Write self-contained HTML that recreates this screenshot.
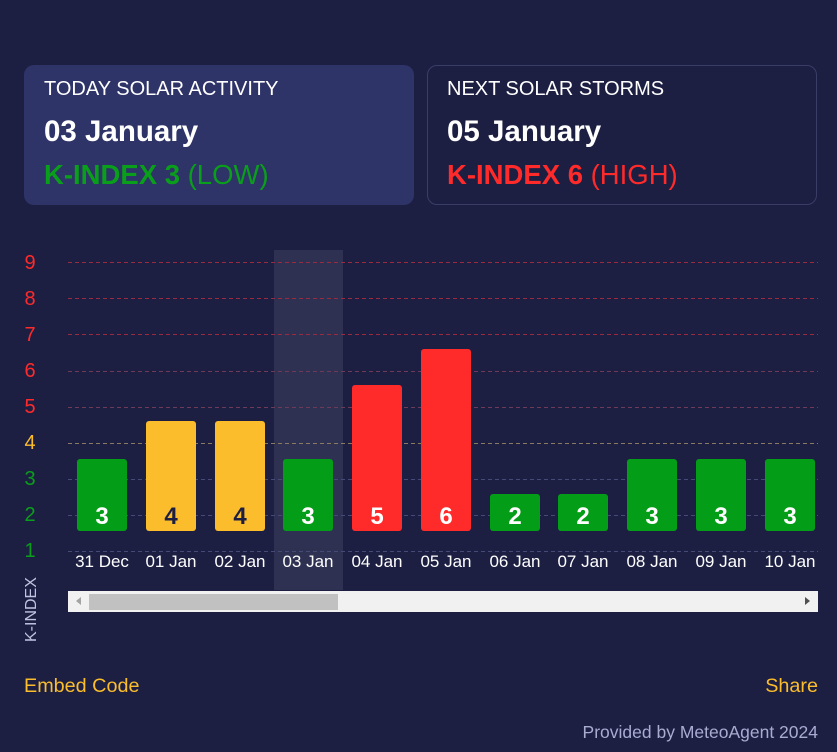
<!DOCTYPE html>
<html><head><style>
body{margin:0;width:837px;height:752px;background:#1c1f42;font-family:"Liberation Sans",sans-serif;position:relative;overflow:hidden;color:#fff}
.card{position:absolute;top:65px;width:390px;height:140px;border-radius:10px;box-sizing:border-box}
.t{position:absolute;left:20px;top:13px;font-size:20px}
.d{position:absolute;left:20px;top:50px;font-size:29.5px;font-weight:bold}
.k{position:absolute;left:20px;top:94px;font-size:27.5px}
.a{position:absolute;font-size:19.8px}
</style></head><body>
<div class="card" style="left:24px;background:#2e3368">
<div class="t">TODAY SOLAR ACTIVITY</div><div class="d">03 January</div>
<div class="k" style="color:#0a9f1a"><b>K-INDEX 3</b> (LOW)</div></div>
<div class="card" style="left:427px;border:1px solid #3a3e66">
<div class="t" style="left:19px;top:12px">NEXT SOLAR STORMS</div><div class="d" style="left:19px;top:49px">05 January</div>
<div class="k" style="color:#ff2a2a;left:19px;top:93px"><b>K-INDEX 6</b> (HIGH)</div></div>
<svg width="837" height="752" style="position:absolute;left:0;top:0" font-family="Liberation Sans, sans-serif">
<rect x="274" y="250" width="69" height="340" fill="#2e3152"/>
<g stroke-dasharray="4,3" stroke-width="1">
<line x1="68" x2="818" y1="262.5" y2="262.5" stroke="#9a2a40"/>
<line x1="68" x2="818" y1="298.5" y2="298.5" stroke="#9a2a40"/>
<line x1="68" x2="818" y1="334.5" y2="334.5" stroke="#9a2a40"/>
<line x1="68" x2="818" y1="371.5" y2="371.5" stroke="#6e3a58"/>
<line x1="68" x2="818" y1="407.5" y2="407.5" stroke="#6e3a58"/>
<line x1="68" x2="818" y1="443.5" y2="443.5" stroke="#8a7a60"/>
<line x1="68" x2="818" y1="479.5" y2="479.5" stroke="#454a78"/>
<line x1="68" x2="818" y1="515.5" y2="515.5" stroke="#454a78"/>
<line x1="68" x2="818" y1="551.5" y2="551.5" stroke="#454a78"/>
</g>
<g font-size="20" text-anchor="middle">
<text x="30" y="269" fill="#ff2a2a">9</text><text x="30" y="305" fill="#ff2a2a">8</text>
<text x="30" y="341" fill="#ff2a2a">7</text><text x="30" y="377" fill="#ff2a2a">6</text>
<text x="30" y="413" fill="#ff2a2a">5</text><text x="30" y="449" fill="#fbbd2c">4</text>
<text x="30" y="485" fill="#0a9f1a">3</text><text x="30" y="521" fill="#0a9f1a">2</text>
<text x="30" y="557" fill="#0a9f1a">1</text>
</g>
<text transform="translate(36,642) rotate(-90)" font-size="16" fill="#c0c4e0">K-INDEX</text>
<g font-weight="bold" font-size="24" text-anchor="middle">
<rect x="77" y="459" width="50" height="72" rx="3" fill="#049d17"/><text x="102" y="524" fill="#fff">3</text>
<rect x="146" y="421" width="50" height="110" rx="3" fill="#fbbd2c"/><text x="171" y="524" fill="#1c1f42">4</text>
<rect x="215" y="421" width="50" height="110" rx="3" fill="#fbbd2c"/><text x="240" y="524" fill="#1c1f42">4</text>
<rect x="283" y="459" width="50" height="72" rx="3" fill="#049d17"/><text x="308" y="524" fill="#fff">3</text>
<rect x="352" y="385" width="50" height="146" rx="3" fill="#ff2a2a"/><text x="377" y="524" fill="#fff">5</text>
<rect x="421" y="349" width="50" height="182" rx="3" fill="#ff2a2a"/><text x="446" y="524" fill="#fff">6</text>
<rect x="490" y="494" width="50" height="37" rx="3" fill="#049d17"/><text x="515" y="524" fill="#fff">2</text>
<rect x="558" y="494" width="50" height="37" rx="3" fill="#049d17"/><text x="583" y="524" fill="#fff">2</text>
<rect x="627" y="459" width="50" height="72" rx="3" fill="#049d17"/><text x="652" y="524" fill="#fff">3</text>
<rect x="696" y="459" width="50" height="72" rx="3" fill="#049d17"/><text x="721" y="524" fill="#fff">3</text>
<rect x="765" y="459" width="50" height="72" rx="3" fill="#049d17"/><text x="790" y="524" fill="#fff">3</text>
</g>
<g font-size="17" fill="#fff" text-anchor="middle">
<text x="102" y="567">31 Dec</text><text x="171" y="567">01 Jan</text><text x="240" y="567">02 Jan</text>
<text x="308" y="567">03 Jan</text><text x="377" y="567">04 Jan</text><text x="446" y="567">05 Jan</text>
<text x="515" y="567">06 Jan</text><text x="583" y="567">07 Jan</text><text x="652" y="567">08 Jan</text>
<text x="721" y="567">09 Jan</text><text x="790" y="567">10 Jan</text>
</g>
<rect x="68" y="591" width="750" height="21" fill="#f1f1f1"/>
<rect x="89" y="594" width="249" height="16" fill="#c1c1c1"/>
<polygon points="76,601 81,597 81,605" fill="#a3a3a3"/>
<polygon points="810,601 805,597 805,605" fill="#505050"/>
</svg>
<div class="a" style="left:24px;top:675px;color:#fbbd2c">Embed Code</div>
<div class="a" style="right:19px;top:675px;color:#fbbd2c">Share</div>
<div class="a" style="right:19px;top:722px;color:#a8acd0;font-size:17.5px">Provided by MeteoAgent 2024</div>
</body></html>
